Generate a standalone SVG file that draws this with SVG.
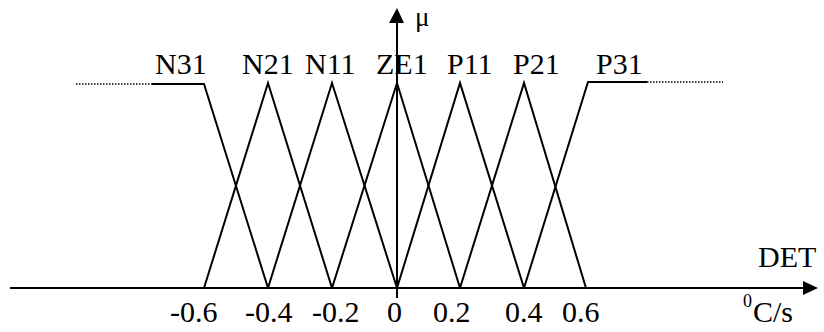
<svg xmlns="http://www.w3.org/2000/svg" width="824" height="332" viewBox="0 0 824 332">
<style>
.mf{fill:none;stroke:#000;stroke-width:2;stroke-linejoin:miter}
.dot{fill:none;stroke:#000;stroke-width:1.5;stroke-dasharray:1.5 1.5}
.ax{fill:none;stroke:#000;stroke-width:2}
.ah{fill:#000;stroke:none}
text{font-family:"Liberation Serif","Times New Roman",serif;font-size:30px;fill:#000}
</style>
<rect width="824" height="332" fill="#fff"/>
<g id="axes">
<line class="ax" x1="10" y1="288" x2="805" y2="288"/>
<polygon class="ah" points="803,281 818,288 803,295"/>
<line class="ax" x1="397" y1="298" x2="397" y2="22"/>
<polygon class="ah" points="389,23 397,8 404,23"/>
<text x="415" y="26" style="font-size:27px">μ</text>
<text x="758" y="267">DET</text>
<text x="743" y="307" style="font-size:18px">0</text>
<text x="753" y="322">C/s</text>
</g>
<g id="ticks">
<text x="170" y="322">-0.6</text>
<text x="245" y="322">-0.4</text>
<text x="312" y="322">-0.2</text>
<text x="387" y="322">0</text>
<text x="433" y="322">0.2</text>
<text x="505" y="322">0.4</text>
<text x="562" y="322">0.6</text>
</g>
<g id="N31">
<line class="dot" x1="76" y1="84" x2="152" y2="84"/>
<polyline class="mf" points="152,84 204,84 268,288"/>
<text x="155" y="74">N31</text>
</g>
<g id="N21">
<polyline class="mf" points="204,288 268,83 332,288"/>
<text x="242" y="74">N21</text>
</g>
<g id="N11">
<polyline class="mf" points="268,288 332,83 397,288"/>
<text x="305" y="74">N11</text>
</g>
<g id="ZE1">
<polyline class="mf" points="332,288 397,83 460,288"/>
<text x="376" y="74">ZE1</text>
</g>
<g id="P11">
<polyline class="mf" points="397,288 460,83 524,288"/>
<text x="447" y="74">P11</text>
</g>
<g id="P21">
<polyline class="mf" points="460,288 524,83 586,288"/>
<text x="513" y="74">P21</text>
</g>
<g id="P31">
<polyline class="mf" points="524,288 588,82 647,82"/>
<line class="dot" x1="647" y1="82" x2="723" y2="82"/>
<text x="596" y="74">P31</text>
</g>
</svg>
